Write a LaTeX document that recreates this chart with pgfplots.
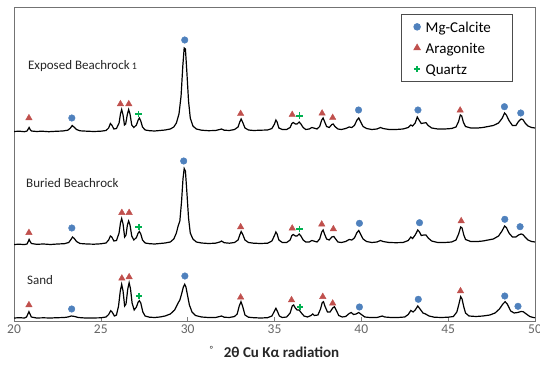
\documentclass[border=0pt]{standalone}
\usepackage{pgfplots}
\pgfplotsset{compat=1.18}
\usepackage{fontspec}
\setmainfont{Carlito}
\definecolor{mgblue}{HTML}{4F81BD}
\definecolor{arared}{HTML}{C0504D}
\definecolor{qgreen}{HTML}{00B050}
\pgfplotsset{mylegend/.style={legend image code/.code={\path (-11pt,0pt) (7.7pt,0pt); \draw[##1] plot coordinates {(0pt,0pt)};}}}
\begin{document}
\begin{tikzpicture}
\path[use as bounding box] (-14pt,-46pt) rectangle (526pt,321pt);
\begin{axis}[
  at={(0,0)}, anchor=south west,
  scale only axis, width=521pt, height=314pt,
  xmin=20, xmax=50, ymin=0, ymax=314,
  xtick={20,25,...,50}, ytick=\empty,
  xtick pos=bottom, tick align=inside, major tick length=4pt,
  tick style={black!50, line width=0.6pt},
  axis line style={black!55, line width=0.7pt},
  /pgf/number format/assume math mode=true,
  xticklabel style={font=\fontsize{13.5}{16}\selectfont, text=black!60},
  xlabel={{\fontsize{9}{10}\selectfont\raisebox{5pt}{°}}\hspace{11pt}\textbf{2θ Cu Kα radiation}},
  xlabel style={font=\fontsize{15}{17}\selectfont, text=black!85, at={(axis description cs:0.5,0)}, anchor=center, yshift=-31pt},
  legend style={at={(rel axis cs:0.958,0.978)}, anchor=north east, draw=black!70, line width=0.8pt, fill=white,
     font=\fontsize{15}{18}\selectfont, row sep=7pt, inner xsep=4pt, inner ysep=5.5pt, nodes={inner sep=0pt}},
  legend cell align=left,
]
% Exposed Beachrock
\addplot[black, line width=1.2pt, forget plot] coordinates {
(20.0,189.5)(20.3,189.8)(20.6,189.3)(20.75,190.0)(20.82,192)(20.87,193.5)(20.93,191.5)(21.0,190)(21.3,189.5)(21.6,189.8)(22.0,189.3)(22.4,189.7)(22.8,190)(23.1,190.8)(23.25,193)(23.35,195.5)(23.45,194)(23.6,191.5)(23.8,190.2)(24.2,189.8)(24.6,189.5)(25.0,189.8)(25.3,190.5)(25.45,193)(25.55,197.5)(25.63,196)(25.75,192)(25.9,192.5)(26.05,198)(26.13,207)(26.2,211.5)(26.28,206)(26.36,196)(26.43,197)(26.52,206)(26.6,211.5)(26.68,207)(26.78,196)(26.9,193.5)(27.05,196)(27.15,201)(27.22,203)(27.3,200)(27.4,194)(27.55,191)(27.8,190.3)(28.1,190)(28.4,190.5)(28.7,191)(29.0,192)(29.2,194)(29.35,198)(29.5,207)(29.62,225)(29.72,255)(29.8,273)(29.87,272)(29.95,250)(30.05,220)(30.15,203)(30.3,195)(30.5,192)(30.8,190.8)(31.2,190.3)(31.6,190.5)(31.85,191.5)(31.95,192)(32.1,190.8)(32.4,190.5)(32.7,191.5)(32.9,194)(33.0,199)(33.08,202)(33.16,199)(33.3,193)(33.5,191)(33.8,190.5)(34.2,190.8)(34.6,191)(34.85,192.5)(35.0,197)(35.08,201)(35.15,199)(35.25,193)(35.45,191.5)(35.7,191.5)(35.9,193.5)(36.0,197.5)(36.08,198.5)(36.2,197)(36.3,197)(36.42,199)(36.52,197)(36.65,193.5)(36.8,191.5)(37.0,192)(37.15,193.5)(37.25,193)(37.45,192)(37.6,194.5)(37.72,201)(37.8,203)(37.88,199.5)(38.0,194.5)(38.15,193.5)(38.3,196.5)(38.38,197)(38.48,194.5)(38.65,192)(38.85,191.5)(39.1,192.5)(39.3,194)(39.45,193.5)(39.6,195.5)(39.75,201)(39.85,203)(39.95,199.5)(40.1,194.5)(40.3,192.5)(40.6,191.5)(40.9,192)(41.1,193.5)(41.25,192.5)(41.6,191.5)(42.0,191.5)(42.4,192)(42.7,193.5)(42.85,196)(42.95,195)(43.1,198)(43.22,204)(43.32,201)(43.45,197.5)(43.6,198)(43.72,198.3)(43.85,195.5)(44.05,193)(44.4,192)(44.8,192)(45.2,192.5)(45.45,194)(45.6,199.5)(45.7,206)(45.78,205)(45.88,198.5)(46.0,194.5)(46.3,193)(46.7,193)(47.0,193.5)(47.3,194.5)(47.6,195.5)(47.9,198)(48.1,202.5)(48.25,208)(48.35,206)(48.5,200.5)(48.7,195.5)(48.9,195.5)(49.05,199.5)(49.2,202)(49.3,201.5)(49.45,197.5)(49.6,195)(49.8,193.5)(50.0,193)
};
% Buried Beachrock
\addplot[black, line width=1.2pt, forget plot] coordinates {
(20.0,76.5)(20.3,76.8)(20.6,76.4)(20.75,77)(20.82,79.5)(20.87,81.5)(20.93,79.5)(21.0,77.5)(21.3,76.7)(21.7,77)(22.1,76.5)(22.5,77)(22.9,77.3)(23.15,78.5)(23.28,81.5)(23.37,84)(23.47,82.5)(23.6,79.5)(23.8,77.5)(24.2,77)(24.6,76.8)(25.0,77.2)(25.3,78)(25.45,81)(25.55,85)(25.63,84)(25.75,80)(25.9,80.5)(26.05,88)(26.13,98)(26.2,102.5)(26.28,97)(26.37,84)(26.45,86)(26.53,96)(26.6,100)(26.68,96)(26.78,85)(26.9,81)(27.05,83.5)(27.15,88)(27.22,89.5)(27.3,87)(27.4,81)(27.55,78)(27.8,77.3)(28.1,77)(28.4,77.5)(28.7,78)(29.0,79)(29.2,82)(29.35,88)(29.45,95)(29.55,100)(29.65,120)(29.73,142)(29.8,152.5)(29.87,150)(29.95,130)(30.05,103)(30.15,88)(30.3,82)(30.5,79)(30.8,78)(31.2,77.5)(31.6,77.8)(31.85,79)(31.95,80)(32.1,78.3)(32.4,77.8)(32.7,78.5)(32.9,81)(33.0,86)(33.08,89.5)(33.16,87)(33.3,81)(33.5,78.5)(33.8,77.8)(34.2,77.5)(34.6,77.8)(34.85,80)(35.0,85.5)(35.08,89)(35.15,87)(35.25,81)(35.45,78.5)(35.7,78.5)(35.9,81)(36.0,85.5)(36.08,86.5)(36.2,85)(36.3,85)(36.42,87)(36.52,85)(36.65,81)(36.8,79)(37.0,79)(37.15,80.5)(37.25,80)(37.45,79)(37.6,82)(37.72,89)(37.8,91)(37.88,87)(38.0,82)(38.15,81)(38.3,84)(38.42,84.5)(38.52,82)(38.65,79)(38.85,78.5)(39.1,79.5)(39.3,81.5)(39.45,81)(39.6,83)(39.75,88.5)(39.85,90.5)(39.95,87)(40.1,82)(40.3,79.5)(40.6,78.5)(40.9,79)(41.1,80.5)(41.25,79.5)(41.6,78.5)(42.0,78.3)(42.4,78.5)(42.7,80.5)(42.85,84)(42.95,82.5)(43.1,86)(43.25,91)(43.35,89)(43.45,85.5)(43.6,86)(43.72,86)(43.85,83)(44.05,80)(44.4,78.5)(44.8,78.5)(45.2,79)(45.45,81)(45.6,87)(45.72,94)(45.8,93)(45.9,86)(46.0,81.5)(46.3,79.5)(46.7,79.5)(47.0,80)(47.3,81)(47.6,82)(47.9,85)(48.1,90)(48.25,95)(48.35,93.5)(48.5,88)(48.7,84)(48.9,84)(49.05,86)(49.2,87)(49.3,86.5)(49.45,83.5)(49.6,81)(49.8,79.5)(50.0,79)
};
% Sand
\addplot[black, line width=1.2pt, forget plot] coordinates {
(20.0,3)(20.3,3.3)(20.6,3)(20.72,4)(20.8,7)(20.86,9.3)(20.92,7)(21.0,4)(21.3,3)(21.7,3.2)(22.1,3)(22.5,3.3)(22.9,3.5)(23.1,4)(23.3,5)(23.5,4.5)(23.7,3.5)(24.1,3)(24.5,3)(25.0,3.2)(25.3,4)(25.45,6.5)(25.57,10.3)(25.65,9)(25.78,5)(25.9,6)(26.02,15)(26.12,30)(26.2,36.7)(26.28,30)(26.37,15)(26.45,17)(26.55,32)(26.63,38.3)(26.71,32)(26.8,18)(26.92,11)(27.05,14)(27.15,19)(27.22,20.3)(27.3,18)(27.42,9)(27.55,5)(27.8,3.8)(28.1,3.5)(28.4,4)(28.7,5)(29.0,7)(29.25,11)(29.45,18)(29.55,21)(29.65,27)(29.75,34)(29.83,36.7)(29.9,34)(30.0,25)(30.1,16)(30.25,9)(30.45,5.5)(30.8,4)(31.2,3.5)(31.6,3.5)(31.85,4.5)(31.95,5)(32.1,3.8)(32.4,3.5)(32.7,4.5)(32.85,7)(32.97,15)(33.07,19.3)(33.16,15)(33.3,6)(33.5,3.8)(33.8,3.3)(34.2,3)(34.6,3.3)(34.85,5)(35.0,10)(35.08,12.7)(35.16,10)(35.28,5)(35.45,3.5)(35.7,4)(35.9,8)(36.02,15)(36.1,16)(36.2,13)(36.3,11)(36.42,11)(36.55,8)(36.7,5)(36.9,4)(37.1,5.5)(37.2,7)(37.3,5.5)(37.5,6)(37.65,12)(37.75,18.5)(37.82,19.3)(37.9,15)(38.05,9)(38.2,9)(38.35,13)(38.45,14.3)(38.55,11)(38.7,5.5)(38.9,4)(39.1,4.5)(39.3,7.5)(39.42,8.5)(39.55,6.5)(39.7,7)(39.85,8.5)(40.0,6.5)(40.2,4)(40.5,3.5)(40.9,3.5)(41.1,4.5)(41.2,5)(41.35,4)(41.7,3.5)(42.1,3.5)(42.5,4)(42.7,6.5)(42.85,10.5)(42.98,9)(43.1,11)(43.25,15)(43.38,12)(43.55,8)(43.7,7)(43.9,5)(44.2,3.8)(44.6,3.5)(45.0,3.8)(45.3,4.5)(45.5,9)(45.62,17)(45.72,24.3)(45.8,22)(45.9,14)(46.0,8)(46.2,5)(46.6,4.5)(47.0,5)(47.4,6)(47.7,8)(47.95,12)(48.15,17)(48.28,19.3)(48.4,17)(48.6,10)(48.8,8)(49.0,8.5)(49.2,9.5)(49.32,9.3)(49.5,7)(49.7,4.5)(49.9,3.5)(50.0,3.3)
};
% Mg-Calcite
\addplot[only marks, mark=*, mark size=3.3pt, color=mgblue, mylegend] coordinates {
(23.33,203)(29.83,281)(39.84,211)(43.26,211)(48.24,214.3)(49.18,208)
(23.33,93)(29.77,160)(39.89,97.7)(43.35,98.3)(48.26,101.7)(49.14,94.3)
(23.32,12)(29.84,45)(39.89,14)(43.28,21.7)(48.26,25)(49.02,14.7)
};
\addlegendentry{\makebox[83pt][l]{\strut Mg-Calcite}}
% Aragonite
\addplot[only marks, mark=triangle*, mark size=3.7pt, color=arared, mylegend] coordinates {
(20.86,203)(26.13,217)(26.61,217)(33.05,207.3)(36.02,206.3)(37.74,207.7)(38.35,203.3)(45.69,210.7)
(20.86,88.3)(26.21,108.3)(26.63,108.3)(33.05,94)(36.02,92.7)(37.72,96.7)(38.39,92)(45.75,100)
(20.86,16)(26.21,42.7)(26.63,44)(33.05,23.7)(35.98,21)(37.78,24.3)(38.35,17.7)(45.71,30)
};
\addlegendentry{\makebox[83pt][l]{\strut Aragonite}}
% Quartz
\addplot[only marks, mark=+, mark size=3.2pt, color=qgreen, line width=1.8pt, mylegend] coordinates {
(27.17,207)(36.44,205.3)
(27.18,94)(36.44,92.3)
(27.2,25)(36.48,14.3)
};
\addlegendentry{\makebox[83pt][l]{\strut Quartz}}
\node[anchor=west, inner sep=0pt, font=\fontsize{13}{15}\selectfont, text=black!85] at (axis cs:20.8,255) {Exposed Beachrock\,{\fontsize{10}{12}\selectfont 1}};
\node[anchor=west, inner sep=0pt, font=\fontsize{13}{15}\selectfont, text=black!85] at (axis cs:20.69,138) {Buried Beachrock};
\node[anchor=west, inner sep=0pt, font=\fontsize{13}{15}\selectfont, text=black!85] at (axis cs:20.75,41) {Sand};
\end{axis}
\end{tikzpicture}
\end{document}
